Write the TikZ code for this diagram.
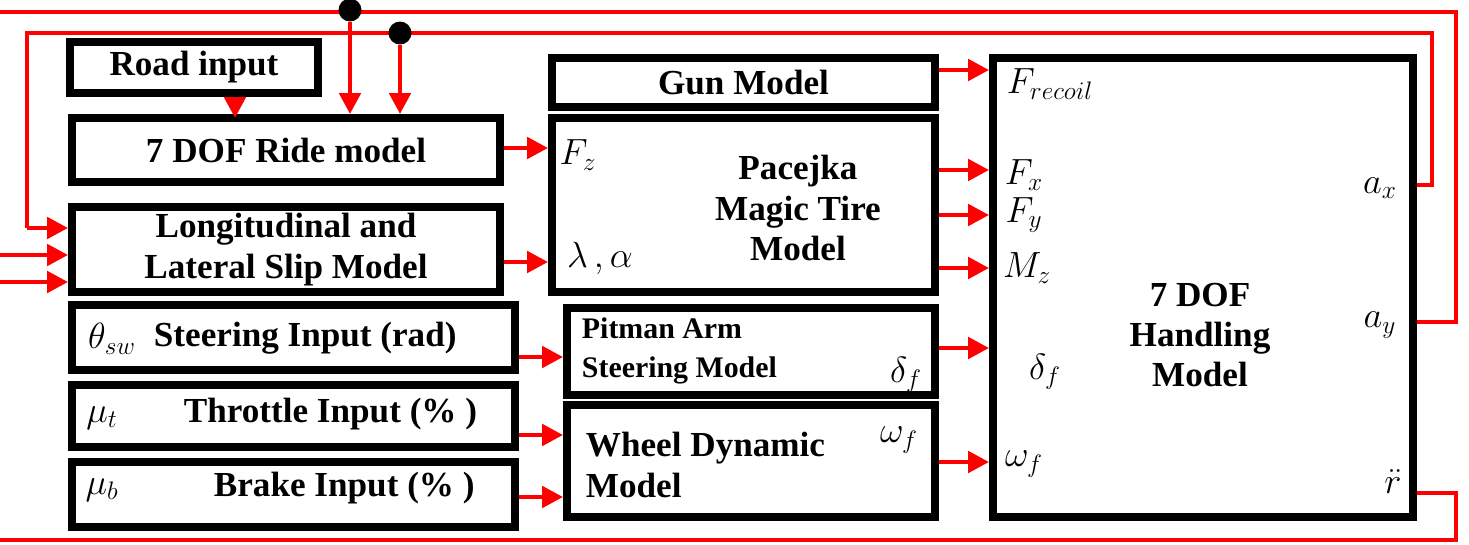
\documentclass[tikz,border=0pt]{standalone}
\usepackage{fontspec}
\setmainfont{Liberation Serif}
\usetikzlibrary{arrows.meta}
\begin{document}
\begin{tikzpicture}[x=0.02cm,y=-0.02cm,
  box/.style={draw=black,line width=4.5pt,fill=white,inner sep=0pt,font=\bfseries\fontsize{20}{23}\selectfont,align=center},
  sig/.style={draw=red,line width=2.8pt},
  arr/.style={sig,-{Triangle[length=0.42cm,width=0.42cm]}},
  lab/.style={font=\fontsize{21}{24}\selectfont,inner sep=0pt},
  dot/.style={circle,fill=black,minimum size=0.46cm,inner sep=0pt}]
\useasboundingbox (0,0) rectangle (1469,544);
\coordinate (t1) at (1456,12); \coordinate (t0) at (0,12);
\coordinate (s1) at (1432,33); \coordinate (s0) at (27,33);
\coordinate (b1) at (1456,540); \coordinate (b0) at (0,540);
\coordinate (i1) at (0,255); \coordinate (i2) at (0,282);
\coordinate (sc) at (27,228);
% boxes
\node[box,minimum width=4.96cm,minimum height=1.02cm] (road) at (194,67.5) {Road input};
\node[box,minimum width=8.56cm,minimum height=1.28cm] (ride) at (286,150) {7 DOF Ride model};
\node[box,minimum width=8.56cm,minimum height=1.70cm] (slip) at (286,249.5) {Longitudinal and\\Lateral Slip Model};
\node[box,minimum width=8.86cm,minimum height=1.30cm] (steer) at (293.5,337.5) {};
\node[box,minimum width=8.86cm,minimum height=1.24cm] (thr) at (293.5,416) {};
\node[box,minimum width=8.86cm,minimum height=1.30cm] (brk) at (293.5,494.5) {};
\node[box,minimum width=7.66cm,minimum height=0.98cm] (gun) at (743.5,82.5) {Gun Model};
\node[box,minimum width=7.66cm,minimum height=3.48cm] (pac) at (743.5,205) {};
\node[box,minimum width=7.36cm,minimum height=1.74cm] (pit) at (751,351.5) {};
\node[box,minimum width=7.36cm,minimum height=2.24cm] (whl) at (751,461) {};
\node[box,minimum width=8.40cm,minimum height=9.18cm] (hnd) at (1203,287.5) {};
% texts
\node[box,draw=none,fill=none] (pact) at (798,208) {Pacejka\\Magic Tire\\Model};
\node[box,draw=none,fill=none] (hndt) at (1200,335) {7 DOF\\Handling\\Model};
\node[box,draw=none,fill=none,anchor=west] (stt) at (150,338) {Steering Input (rad)};
\node[box,draw=none,fill=none,anchor=west] (tht) at (180,414) {Throttle Input (\% )};
\node[box,draw=none,fill=none,anchor=west] (brt) at (210,488) {Brake Input (\% )};
\node[box,draw=none,fill=none,anchor=west,align=left,font=\bfseries\fontsize{17}{22}\selectfont] (pitt) at (578,351) {Pitman Arm\\Steering Model};
\node[box,draw=none,fill=none,anchor=west,align=left] (whlt) at (582,465) {Wheel Dynamic\\Model};
% math labels
\node[lab] (lfz) at (578,155) {$F_z$};
\node[lab] (lla) at (600,258) {$\lambda\,,\alpha$};
\node[lab] (lfr) at (1050,84) {$F_{recoil}$};
\node[lab] (lfx) at (1024,175) {$F_x$};
\node[lab] (lfy) at (1024,215) {$F_y$};
\node[lab] (lmz) at (1027,268) {$M_z$};
\node[lab] (ldf) at (1045,372) {$\delta_f$};
\node[lab] (lwf) at (1024,464) {$\omega_f$};
\node[lab] (lax) at (1380,188) {$a_x$};
\node[lab] (lay) at (1380,325) {$a_y$};
\node[lab] (lrr) at (1393,482) {$\ddot{r}$};
\node[lab] (lth) at (112,339) {$\theta_{sw}$};
\node[lab] (lmt) at (102,418) {$\mu_t$};
\node[lab] (lmb) at (102,490) {$\mu_b$};
\node[lab] (ldp) at (906,375) {$\delta_f$};
\node[lab] (lwp) at (899,440) {$\omega_f$};
% feedback wiring
\draw[sig] (hnd.east|-0,322) -- (1456,322) -- (t1) -- (t0);
\draw[sig] (hnd.east|-0,185) -- (1432,185) -- (s1) -- (s0) -- (sc);
\draw[arr] (sc) -- (sc-|slip.west);
\draw[sig] (hnd.east|-0,493) -- (1456,493) -- (b1) -- (b0);
\node[dot] (d1) at (350,10) {};
\node[dot] (d2) at (400,33) {};
\draw[arr] (d1) -- (d1|-ride.north);
\draw[arr] (d2) -- (d2|-ride.north);
\draw[arr] (i1) -- (i1-|slip.west);
\draw[arr] (i2) -- (i2-|slip.west);
\draw[arr] (road.south-|235,0) -- (235,118);
% forward arrows
\draw[arr] (ride.east|-0,148) -- (pac.west|-0,148);
\draw[arr] (slip.east|-0,262) -- (pac.west|-0,262);
\draw[arr] (steer.east|-0,357) -- (pit.west|-0,357);
\draw[arr] (thr.east|-0,435) -- (whl.west|-0,435);
\draw[arr] (brk.east|-0,497) -- (whl.west|-0,497);
\draw[arr] (gun.east|-0,70) -- (hnd.west|-0,70);
\draw[arr] (pac.east|-0,170) -- (hnd.west|-0,170);
\draw[arr] (pac.east|-0,215) -- (hnd.west|-0,215);
\draw[arr] (pac.east|-0,268) -- (hnd.west|-0,268);
\draw[arr] (pit.east|-0,348) -- (hnd.west|-0,348);
\draw[arr] (whl.east|-0,462) -- (hnd.west|-0,462);
\end{tikzpicture}
\end{document}
